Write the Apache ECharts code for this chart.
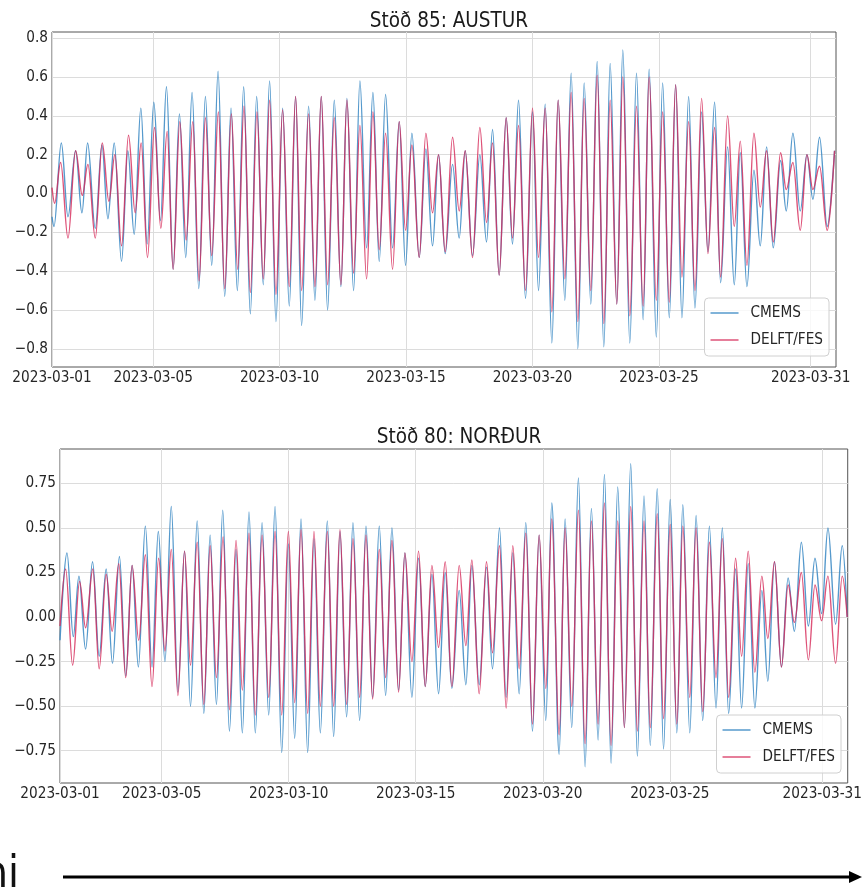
<!DOCTYPE html>
<html>
<head>
<meta charset="utf-8">
<script src="https://cdn.jsdelivr.net/npm/echarts@6/dist/echarts.min.js"></script>
<style>
html,body{margin:0;padding:0;background:#fff;}
#c{width:865px;height:894px;}
</style>
</head>
<body>
<div id="c"></div>
<script>
// ---- Data (days since 2023-03-01 00:00, water level) ----
const xTickDays = [0, 4, 9, 14, 19, 24, 30];
const austurTicks = [-0.8, -0.6, -0.4, -0.2, 0.0, 0.2, 0.4, 0.6, 0.8];
const nordurTicks = [-0.75, -0.5, -0.25, 0.0, 0.25, 0.5, 0.75];

// Stöð 85: AUSTUR
const austurDelftT = [0, 0.105, 0.342, 0.632, 0.934, 1.197, 1.421, 1.711, 1.987, 2.25,
  2.487, 2.75, 3.026, 3.289, 3.526, 3.776, 4.053, 4.303, 4.553, 4.789,
  5.053, 5.303, 5.566, 5.816, 6.066, 6.316, 6.579, 6.829, 7.092, 7.342,
  7.592, 7.842, 8.105, 8.354, 8.605, 8.855, 9.119, 9.382, 9.632, 9.870,
  10.146, 10.397, 10.647, 10.897, 11.161, 11.424, 11.661, 11.925, 12.175, 12.439,
  12.689, 12.939, 13.190, 13.466, 13.730, 13.980, 14.231, 14.520, 14.784, 15.047,
  15.285, 15.548, 15.838, 16.101, 16.339, 16.628, 16.918, 17.182, 17.419, 17.682,
  17.959, 18.209, 18.447, 18.723, 19.0, 19.237, 19.501, 19.764, 20.014, 20.278,
  20.528, 20.792, 21.042, 21.306, 21.556, 21.819, 22.070, 22.333, 22.570, 22.847,
  23.111, 23.374, 23.611, 23.895, 24.145, 24.408, 24.659, 24.909, 25.173, 25.423,
  25.686, 25.937, 26.200, 26.437, 26.714, 26.978, 27.215, 27.478, 27.755, 28.005,
  28.256, 28.519, 28.809, 29.033, 29.296, 29.586, 29.850, 30.087, 30.350, 30.653,
  30.943];
const austurDelftV = [0.03, -0.05, 0.16, -0.23, 0.22, -0.01, 0.15, -0.23, 0.26, -0.04,
  0.20, -0.27, 0.30, -0.10, 0.26, -0.33, 0.34, -0.18, 0.32, -0.39,
  0.37, -0.24, 0.37, -0.45, 0.39, -0.32, 0.42, -0.49, 0.41, -0.39,
  0.45, -0.51, 0.42, -0.44, 0.48, -0.52, 0.43, -0.48, 0.50, -0.50,
  0.41, -0.48, 0.50, -0.47, 0.39, -0.47, 0.48, -0.41, 0.35, -0.44,
  0.42, -0.29, 0.31, -0.39, 0.37, -0.19, 0.25, -0.33, 0.31, -0.10,
  0.20, -0.30, 0.29, -0.09, 0.22, -0.33, 0.34, -0.15, 0.26, -0.42,
  0.39, -0.23, 0.35, -0.50, 0.44, -0.33, 0.44, -0.61, 0.48, -0.44,
  0.52, -0.66, 0.49, -0.50, 0.61, -0.67, 0.48, -0.57, 0.60, -0.63,
  0.45, -0.58, 0.60, -0.55, 0.42, -0.56, 0.56, -0.43, 0.37, -0.50,
  0.49, -0.31, 0.34, -0.43, 0.40, -0.17, 0.27, -0.37, 0.31, -0.07,
  0.22, -0.25, 0.21, 0.02, 0.16, -0.19, 0.20, 0.02, 0.14, -0.19,
  0.22];
const austurCmemsT = [0, 0.079, 0.368, 0.632, 0.934, 1.184, 1.408, 1.711, 1.974, 2.211,
  2.461, 2.75, 3.0, 3.25, 3.513, 3.763, 4.026, 4.289, 4.526, 4.789,
  5.039, 5.289, 5.539, 5.803, 6.066, 6.316, 6.566, 6.829, 7.079, 7.329,
  7.579, 7.842, 8.092, 8.354, 8.605, 8.855, 9.119, 9.382, 9.632, 9.870,
  10.146, 10.397, 10.647, 10.897, 11.161, 11.424, 11.661, 11.925, 12.175, 12.439,
  12.689, 12.939, 13.190, 13.466, 13.730, 13.980, 14.231, 14.520, 14.784, 15.047,
  15.285, 15.548, 15.838, 16.101, 16.339, 16.628, 16.918, 17.182, 17.419, 17.682,
  17.959, 18.209, 18.447, 18.723, 19.0, 19.237, 19.501, 19.764, 20.014, 20.278,
  20.528, 20.792, 21.042, 21.306, 21.556, 21.819, 22.070, 22.333, 22.570, 22.847,
  23.111, 23.374, 23.611, 23.895, 24.145, 24.408, 24.659, 24.909, 25.173, 25.423,
  25.686, 25.937, 26.200, 26.437, 26.714, 26.978, 27.215, 27.478, 27.755, 28.005,
  28.256, 28.519, 28.809, 29.033, 29.296, 29.586, 29.850, 30.087, 30.350, 30.653,
  30.943];
const austurCmemsV = [-0.12, -0.17, 0.26, -0.12, 0.22, -0.10, 0.26, -0.18, 0.25, -0.13,
  0.26, -0.35, 0.22, -0.21, 0.44, -0.26, 0.47, -0.14, 0.55, -0.39,
  0.41, -0.33, 0.52, -0.49, 0.50, -0.37, 0.63, -0.53, 0.44, -0.50,
  0.55, -0.62, 0.50, -0.47, 0.58, -0.66, 0.44, -0.58, 0.50, -0.68,
  0.45, -0.55, 0.50, -0.60, 0.48, -0.48, 0.49, -0.50, 0.58, -0.28,
  0.52, -0.35, 0.51, -0.28, 0.37, -0.37, 0.31, -0.33, 0.23, -0.27,
  0.20, -0.31, 0.15, -0.23, 0.22, -0.32, 0.20, -0.25, 0.33, -0.42,
  0.39, -0.26, 0.48, -0.54, 0.42, -0.50, 0.46, -0.77, 0.48, -0.55,
  0.62, -0.80, 0.57, -0.57, 0.68, -0.79, 0.67, -0.57, 0.74, -0.77,
  0.62, -0.65, 0.64, -0.74, 0.57, -0.64, 0.56, -0.64, 0.50, -0.59,
  0.42, -0.30, 0.47, -0.46, 0.24, -0.47, 0.21, -0.48, 0.12, -0.27,
  0.24, -0.28, 0.17, -0.09, 0.31, -0.09, 0.20, -0.03, 0.29, -0.17,
  0.22];

// Stöð 80: NORÐUR
const nordurDelftT = [0, 0.222, 0.497, 0.771, 1.007, 1.294, 1.542, 1.817, 2.052, 2.314,
  2.588, 2.837, 3.098, 3.359, 3.621, 3.882, 4.131, 4.379, 4.641, 4.902,
  5.137, 5.399, 5.660, 5.908, 6.157, 6.418, 6.667, 6.928, 7.176, 7.438,
  7.686, 7.952, 8.214, 8.463, 8.725, 8.987, 9.236, 9.485, 9.747, 9.996,
  10.245, 10.520, 10.769, 11.018, 11.280, 11.529, 11.792, 12.041, 12.303, 12.565,
  12.814, 13.063, 13.325, 13.574, 13.849, 14.111, 14.374, 14.636, 14.898, 15.160,
  15.422, 15.710, 15.973, 16.208, 16.497, 16.785, 17.021, 17.296, 17.558, 17.820,
  18.069, 18.332, 18.594, 18.856, 19.118, 19.354, 19.642, 19.878, 20.140, 20.402,
  20.664, 20.913, 21.176, 21.425, 21.687, 21.949, 22.211, 22.460, 22.722, 22.984,
  23.230, 23.503, 23.752, 24.013, 24.275, 24.510, 24.784, 25.033, 25.294, 25.556,
  25.817, 26.065, 26.314, 26.588, 26.824, 27.085, 27.346, 27.621, 27.856, 28.118,
  28.392, 28.654, 28.902, 29.176, 29.451, 29.712, 29.974, 30.222, 30.523, 30.784,
  30.98];
const nordurDelftV = [-0.05, 0.27, -0.27, 0.20, -0.06, 0.27, -0.29, 0.24, -0.08, 0.30,
  -0.34, 0.29, -0.13, 0.35, -0.39, 0.33, -0.19, 0.38, -0.44, 0.37,
  -0.27, 0.42, -0.49, 0.40, -0.34, 0.45, -0.52, 0.43, -0.41, 0.47,
  -0.55, 0.46, -0.45, 0.48, -0.55, 0.48, -0.48, 0.49, -0.54, 0.48,
  -0.50, 0.48, -0.50, 0.49, -0.49, 0.44, -0.45, 0.46, -0.46, 0.38,
  -0.34, 0.43, -0.42, 0.36, -0.25, 0.37, -0.39, 0.29, -0.17, 0.31,
  -0.39, 0.29, -0.16, 0.32, -0.43, 0.31, -0.20, 0.40, -0.51, 0.40,
  -0.29, 0.47, -0.60, 0.46, -0.40, 0.55, -0.66, 0.50, -0.50, 0.60,
  -0.71, 0.54, -0.60, 0.64, -0.72, 0.54, -0.62, 0.62, -0.64, 0.54,
  -0.62, 0.58, -0.57, 0.52, -0.60, 0.51, -0.45, 0.50, -0.53, 0.42,
  -0.34, 0.44, -0.45, 0.33, -0.22, 0.37, -0.31, 0.23, -0.12, 0.31,
  -0.28, 0.18, -0.03, 0.25, -0.24, 0.18, -0.02, 0.23, -0.26, 0.23,
  0.0];
const nordurCmemsT = [0, 0.275, 0.523, 0.745, 1.007, 1.281, 1.542, 1.817, 2.065, 2.340,
  2.588, 2.837, 3.085, 3.359, 3.621, 3.869, 4.131, 4.379, 4.641, 4.902,
  5.137, 5.399, 5.660, 5.908, 6.157, 6.405, 6.667, 6.928, 7.176, 7.438,
  7.686, 7.952, 8.214, 8.463, 8.725, 8.987, 9.236, 9.485, 9.747, 9.996,
  10.245, 10.520, 10.769, 11.018, 11.280, 11.529, 11.792, 12.041, 12.303, 12.565,
  12.814, 13.063, 13.325, 13.574, 13.849, 14.111, 14.374, 14.636, 14.898, 15.160,
  15.422, 15.710, 15.973, 16.208, 16.497, 16.785, 17.021, 17.296, 17.558, 17.820,
  18.069, 18.332, 18.594, 18.856, 19.118, 19.354, 19.642, 19.878, 20.140, 20.402,
  20.664, 20.913, 21.176, 21.425, 21.687, 21.949, 22.211, 22.460, 22.722, 22.984,
  23.230, 23.503, 23.752, 24.013, 24.275, 24.510, 24.784, 25.033, 25.294, 25.556,
  25.817, 26.065, 26.314, 26.588, 26.824, 27.085, 27.346, 27.621, 27.856, 28.118,
  28.392, 28.654, 28.902, 29.176, 29.451, 29.712, 29.974, 30.222, 30.523, 30.784,
  30.98];
const nordurCmemsV = [-0.13, 0.36, -0.11, 0.23, -0.18, 0.31, -0.22, 0.27, -0.26, 0.34,
  -0.33, 0.29, -0.28, 0.51, -0.28, 0.48, -0.25, 0.62, -0.42, 0.37,
  -0.50, 0.54, -0.54, 0.46, -0.49, 0.60, -0.64, 0.38, -0.65, 0.59,
  -0.65, 0.53, -0.55, 0.62, -0.76, 0.41, -0.68, 0.55, -0.76, 0.44,
  -0.65, 0.54, -0.67, 0.48, -0.56, 0.53, -0.58, 0.51, -0.45, 0.51,
  -0.44, 0.50, -0.41, 0.36, -0.45, 0.33, -0.39, 0.24, -0.43, 0.25,
  -0.40, 0.15, -0.38, 0.29, -0.38, 0.28, -0.29, 0.50, -0.45, 0.36,
  -0.43, 0.53, -0.64, 0.46, -0.58, 0.64, -0.77, 0.55, -0.62, 0.78,
  -0.84, 0.61, -0.69, 0.80, -0.82, 0.73, -0.62, 0.86, -0.78, 0.68,
  -0.72, 0.72, -0.74, 0.66, -0.65, 0.63, -0.65, 0.57, -0.58, 0.51,
  -0.51, 0.50, -0.54, 0.27, -0.51, 0.30, -0.51, 0.15, -0.36, 0.31,
  -0.28, 0.22, -0.08, 0.42, -0.05, 0.33, 0.02, 0.50, -0.04, 0.40,
  0.0];

// ---- Chart ----
const FONT = "'DejaVu Sans Condensed', 'DejaVu Sans', sans-serif";
const C_CMEMS = 'rgba(55,135,195,0.85)';
const C_DELFT = 'rgba(214,40,88,0.8)';

function zip(t, v) { return t.map((d, i) => [d, v[i]]); }
function minus(s) { return s.replace('-', '\u2212'); }
function dateLabel(d) { const n = Math.round(d) + 1; return '2023-03-' + (n < 10 ? '0' + n : '' + n); }

function xAxis(gridIndex) {
  return {
    type: 'value', gridIndex: gridIndex, min: 0, max: 31,
    axisLine: { show: false },
    axisTick: { show: false, customValues: xTickDays },
    axisLabel: { customValues: xTickDays, formatter: dateLabel, fontFamily: FONT, fontSize: 15.2, color: '#262626', margin: 4 },
    splitLine: { show: true, lineStyle: { color: '#dcdcdc', width: 1 } }
  };
}
function yAxis(gridIndex, min, max, ticks, digits) {
  return {
    type: 'value', gridIndex: gridIndex, min: min, max: max,
    axisLine: { show: false },
    axisTick: { show: false, customValues: ticks },
    axisLabel: { customValues: ticks, formatter: v => minus(v.toFixed(digits)), fontFamily: FONT, fontSize: 15.2, color: '#262626', margin: 4 },
    splitLine: { show: true, lineStyle: { color: '#dcdcdc', width: 1 } }
  };
}
function line(name, data, color, idx) {
  return {
    name: name, type: 'line', xAxisIndex: idx, yAxisIndex: idx,
    data: data, symbol: 'none', showSymbol: false,
    smooth: 0.36, smoothMonotone: 'x', clip: true,
    color: color, lineStyle: { color: color, width: 1.4 }, itemStyle: { color: color },
    emphasis: { disabled: true }
  };
}
function legend(right, top) {
  return {
    orient: 'vertical', right: right, top: top,
    data: [{ name: 'CMEMS', itemStyle: { color: C_CMEMS } }, { name: 'DELFT/FES', itemStyle: { color: C_DELFT } }],
    icon: 'rect', itemWidth: 28, itemHeight: 1.5, itemGap: 9,
    backgroundColor: 'rgba(255,255,255,0.8)', borderColor: '#d0d0d0', borderWidth: 1, borderRadius: 4,
    padding: [6, 6, 7, 6],
    textStyle: { fontFamily: FONT, fontSize: 15.2, color: '#262626', lineHeight: 18, padding: [0, 0, 0, 7] },
    selectedMode: false
  };
}

const chart = echarts.init(document.getElementById('c'), null, { renderer: 'canvas' });
chart.setOption({
  animation: false,
  backgroundColor: '#fff',
  title: [
    { text: 'Stöð 85: AUSTUR', left: 444, top: 6, textAlign: 'center', textStyle: { fontFamily: FONT, fontSize: 20.5, fontWeight: 'normal', color: '#1a1a1a' } },
    { text: 'Stöð 80: NORÐUR', left: 454, top: 422, textAlign: 'center', textStyle: { fontFamily: FONT, fontSize: 20.5, fontWeight: 'normal', color: '#1a1a1a' } }
  ],
  grid: [
    { left: 52, top: 32, width: 784, height: 335, show: true, borderColor: '#555', borderWidth: 1, backgroundColor: 'transparent' },
    { left: 60, top: 449, width: 788, height: 334, show: true, borderColor: '#555', borderWidth: 1, backgroundColor: 'transparent' }
  ],
  xAxis: [xAxis(0), xAxis(1)],
  yAxis: [yAxis(0, -0.894, 0.832, austurTicks, 1), yAxis(1, -0.931, 0.943, nordurTicks, 2)],
  legend: [legend(36, 298), legend(24, 715)],
  series: [
    line('CMEMS', zip(austurCmemsT, austurCmemsV), C_CMEMS, 0),
    line('DELFT/FES', zip(austurDelftT, austurDelftV), C_DELFT, 0),
    line('CMEMS', zip(nordurCmemsT, nordurCmemsV), C_CMEMS, 1),
    line('DELFT/FES', zip(nordurDelftT, nordurDelftV), C_DELFT, 1)
  ],
  graphic: [
    { type: 'text', x: 19, y: 876, silent: true,
      style: { text: 'Tími', font: "44px 'DejaVu Sans Condensed', 'DejaVu Sans', sans-serif", fill: '#111', align: 'right', verticalAlign: 'middle' } },
    { type: 'line', silent: true, shape: { x1: 63, y1: 877, x2: 852, y2: 877 }, style: { stroke: '#000', lineWidth: 3 } },
    { type: 'polygon', silent: true, shape: { points: [[849, 871], [862, 877], [849, 883]] }, style: { fill: '#000' } }
  ]
});
</script>
</body>
</html>
